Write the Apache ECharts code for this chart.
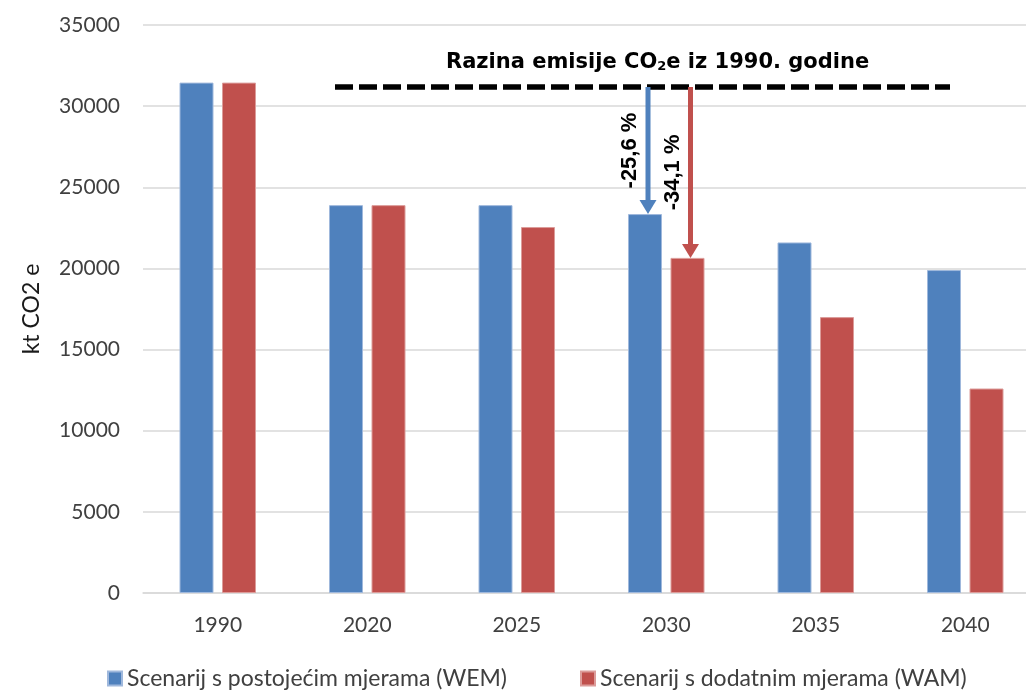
<!DOCTYPE html>
<html>
<head>
<meta charset="utf-8">
<script src="https://cdn.jsdelivr.net/npm/echarts@6/dist/echarts.min.js"></script>
<style>
  html, body { margin: 0; padding: 0; background: #fff; overflow: hidden; }
  #chart { width: 1040px; height: 691px; }
</style>
</head>
<body>
<div id="chart"></div>
<script>
// podaci
const categories = ['1990', '2020', '2025', '2030', '2035', '2040'];
const wemValues = [31450, 23900, 23900, 23350, 21600, 19900];
const wamValues = [31450, 23900, 22550, 20650, 17000, 12600];
const yTicks = [0, 5000, 10000, 15000, 20000, 25000, 30000, 35000];
const level1990 = 31180;
const arrowCategory = '2030';
const arrowLabels = ['-25,6 %', '-34,1 %'];
const seriesNames = ['Scenarij s postojećim mjerama (WEM)', 'Scenarij s dodatnim mjerama (WAM)'];

const BLUE = '#4F81BD';
const RED = '#C0504D';
const BAR_W = 34;
const BAR_GAP = 0.25;
const barStep = BAR_W * (1 + BAR_GAP);

const arrowIdx = categories.indexOf(arrowCategory);
const arrowData = [
  [arrowCategory, level1990, wemValues[arrowIdx], -1],
  [arrowCategory, level1990, wamValues[arrowIdx], 1]
];

const chart = echarts.init(document.getElementById('chart'));

const option = {
  animation: false,
  // graf je u originalu odrezan s desne strane, zato je div malo širi od prozora
  grid: { left: 143, right: 0, top: 25, bottom: 98 },
  title: {
    text: '{a|Razina emisije CO}{s|2}{a|e iz 1990. godine}',
    left: 441,
    top: 47,
    textStyle: {
      rich: {
        a: { fontFamily: 'DejaVu Sans', fontWeight: 'bold', fontSize: 21, color: '#000' },
        s: { fontFamily: 'DejaVu Sans', fontWeight: 'bold', fontSize: 13, color: '#000', verticalAlign: 'bottom', lineHeight: 12 }
      }
    }
  },
  legend: {
    data: seriesNames,
    left: 102,
    top: 662,
    icon: 'rect',
    itemWidth: 14,
    itemHeight: 14,
    itemGap: 73,
    textStyle: { fontFamily: 'Lato', fontSize: 23, color: '#404040' }
  },
  xAxis: {
    type: 'category',
    data: categories,
    axisLine: { lineStyle: { color: '#D9D9D9', width: 1.5 } },
    axisTick: { show: false },
    axisLabel: { margin: 22, fontFamily: 'Lato', fontSize: 21, color: '#404040' }
  },
  yAxis: {
    type: 'value',
    min: yTicks[0],
    max: yTicks[yTicks.length - 1],
    interval: yTicks[1] - yTicks[0],
    name: 'kt CO2 e',
    nameLocation: 'middle',
    nameGap: 100,
    nameTextStyle: { fontFamily: 'Lato', fontSize: 23, color: '#1a1a1a', padding: [0, 0, 0, 0] },
    axisLine: { show: false },
    axisTick: { show: false },
    axisLabel: {
      margin: 23, fontFamily: 'Lato', fontSize: 21, color: '#404040',
      formatter: function (v) { return String(v); }
    },
    splitLine: { lineStyle: { color: '#D9D9D9', width: 1.5 } }
  },
  series: [
    {
      name: seriesNames[0],
      type: 'bar',
      data: wemValues,
      barWidth: BAR_W,
      barGap: (BAR_GAP * 100) + '%',
      itemStyle: { color: BLUE, borderColor: '#9fb8dc', borderWidth: 1 },
      markLine: {
        silent: true,
        symbol: ['none', 'none'],
        label: { show: false },
        lineStyle: { color: '#000', width: 5.5, type: [18, 6] },
        data: [[
          { coord: [categories[1], level1990], x: 335 },
          { coord: [categories[5], level1990], x: 950 }
        ]]
      }
    },
    {
      name: seriesNames[1],
      type: 'bar',
      data: wamValues,
      barWidth: BAR_W,
      itemStyle: { color: RED, borderColor: '#dc9c9a', borderWidth: 1 }
    },
    {
      type: 'custom',
      z: 5,
      silent: true,
      encode: { x: 0, y: 1 },
      data: arrowData,
      renderItem: function (params, api) {
        const cat = api.value(0);
        const side = api.value(3);
        const start = api.coord([cat, api.value(1)]);
        const tip = api.coord([cat, api.value(2)]);
        const x = start[0] + side * barStep / 2 + 3;
        const color = side < 0 ? BLUE : RED;
        const headW = 17, headH = 14;
        const midY = (start[1] + tip[1]) / 2;
        return {
          type: 'group',
          children: [
            { type: 'rect', shape: { x: x - 2.5, y: start[1], width: 5, height: tip[1] - start[1] - headH + 1 }, style: { fill: color } },
            { type: 'polygon', shape: { points: [[x - headW / 2, tip[1] - headH], [x + headW / 2, tip[1] - headH], [x, tip[1]]] }, style: { fill: color } },
            {
              type: 'text', x: x - 18, y: midY, rotation: Math.PI / 2,
              style: {
                text: arrowLabels[params.dataIndex],
                align: 'center', verticalAlign: 'middle',
                fontFamily: 'Liberation Sans', fontWeight: 'bold', fontSize: 22, fill: '#000'
              }
            }
          ]
        };
      }
    }
  ]
};

chart.setOption(option);
</script>
</body>
</html>
